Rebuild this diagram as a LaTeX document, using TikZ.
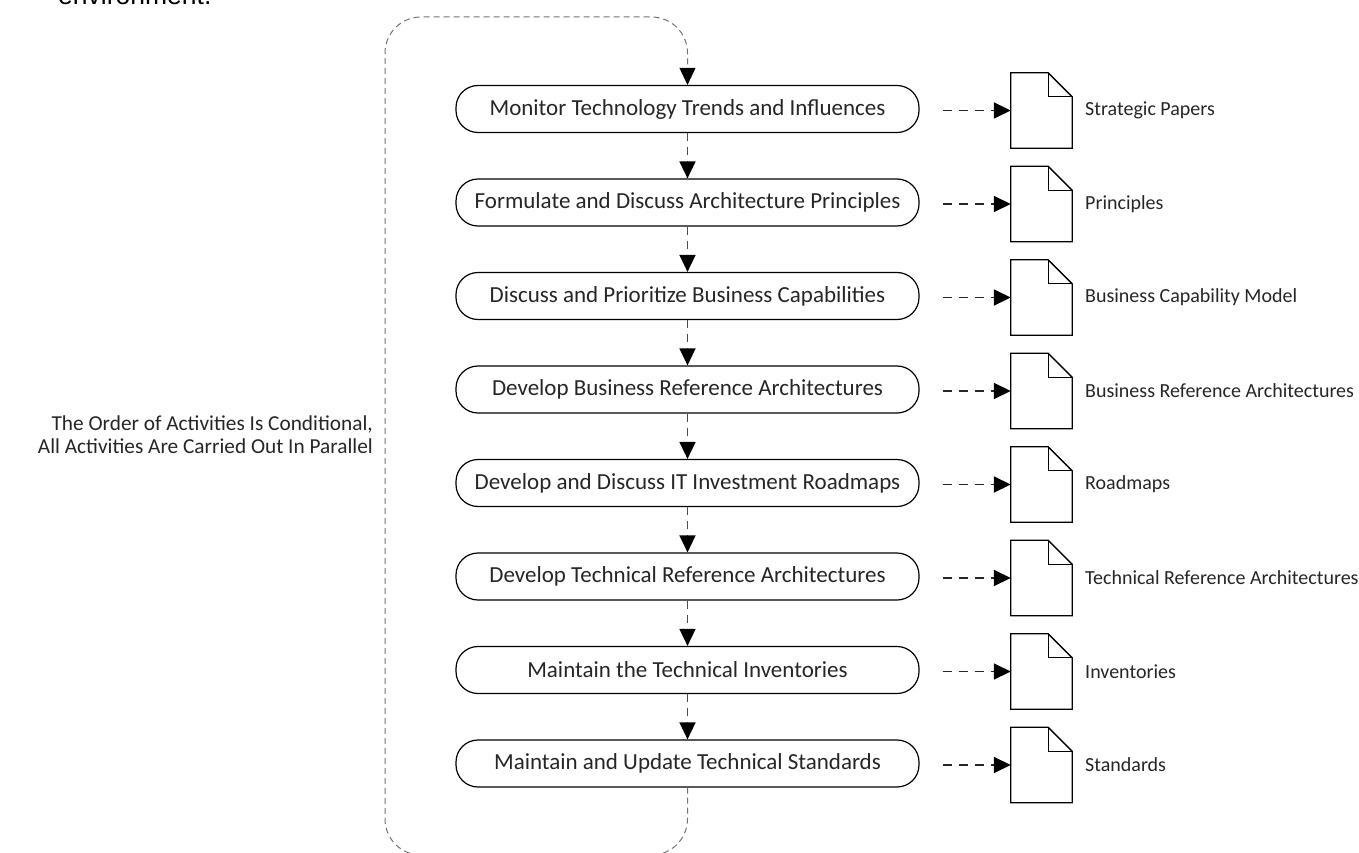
\documentclass[tikz,border=0pt]{standalone}
\usepackage{fontspec}
\setmainfont{Carlito}
\newfontfamily\captionfont{Liberation Sans}
\usetikzlibrary{arrows.meta}

\tikzset{
  activity/.style={draw=black, line width=1.2pt, rounded corners=22pt, minimum width=463pt,
    minimum height=47pt, inner sep=0pt, text=black!85, font=\fontsize{23}{26}\selectfont},
  docbox/.style={minimum width=61pt, minimum height=75pt, inner sep=0pt},
  doclabel/.style={anchor=west, inner sep=0pt, text=black!85, font=\fontsize{20}{24}\selectfont},
  tip/.style={-{Triangle[width=16pt,length=17pt,black]}},
  flowline/.style={tip, draw=black!70, line width=1.6pt, dash pattern=on 8pt off 6pt},
  outline/.style={tip, draw=black!85, line width=1.6pt, dash pattern=on 9pt off 7pt, shorten <=23pt},
  loopline/.style={tip, draw=black!55, line width=1pt, dash pattern=on 6pt off 4pt, rounded corners=36pt}
}

% document icon with folded corner
\newcommand{\docsheet}[1]{%
  \draw[black, line width=1.3pt] (#1.south west) -- (#1.north west) -- ([xshift=-24pt]#1.north east)
    -- ([yshift=-24pt]#1.north east) -- (#1.south east) -- cycle;
  \draw[black, line width=1.3pt] ([xshift=-24pt]#1.north east) -- ([xshift=-24pt,yshift=-24pt]#1.north east)
    -- ([yshift=-24pt]#1.north east);
}

\begin{document}
\begin{tikzpicture}[x=1pt, y=-1pt]

\useasboundingbox (0,0) rectangle (1359,853);

% cut-off line of the surrounding text
\node[anchor=base west, inner sep=0pt, font=\captionfont\fontsize{26.5}{30}\selectfont] (envtext) at (58,5) {environment.};

% Activities
\node[activity] (a1) at (687.5,109)   {Monitor Technology Trends and Influences};
\node[activity] (a2) at (687.5,202.5) {Formulate and Discuss Architecture Principles};
\node[activity] (a3) at (687.5,296)   {Discuss and Prioritize Business Capabilities};
\node[activity] (a4) at (687.5,389.5) {Develop Business Reference Architectures};
\node[activity] (a5) at (687.5,483)   {Develop and Discuss IT Investment Roadmaps};
\node[activity] (a6) at (687.5,576.5) {Develop Technical Reference Architectures};
\node[activity] (a7) at (687.5,670)   {Maintain the Technical Inventories};
\node[activity] (a8) at (687.5,763.5) {Maintain and Update Technical Standards};

% Deliverables
\node[docbox] (d1) at (1041.5,110.5) {};
\node[docbox] (d2) at (1041.5,204)   {};
\node[docbox] (d3) at (1041.5,297.5) {};
\node[docbox] (d4) at (1041.5,391)   {};
\node[docbox] (d5) at (1041.5,484.5) {};
\node[docbox] (d6) at (1041.5,578)   {};
\node[docbox] (d7) at (1041.5,671.5) {};
\node[docbox] (d8) at (1041.5,765)   {};
\docsheet{d1}\docsheet{d2}\docsheet{d3}\docsheet{d4}
\docsheet{d5}\docsheet{d6}\docsheet{d7}\docsheet{d8}

\node[doclabel] (l1) at (1085,110.5) {Strategic Papers};
\node[doclabel] (l2) at (1085,204)   {Principles};
\node[doclabel] (l3) at (1085,297.5) {Business Capability Model};
\node[doclabel] (l4) at (1085,391)   {Business Reference Architectures};
\node[doclabel] (l5) at (1085,484.5) {Roadmaps};
\node[doclabel] (l6) at (1085,578)   {Technical Reference Architectures};
\node[doclabel] (l7) at (1085,671.5) {Inventories};
\node[doclabel] (l8) at (1085,765)   {Standards};

% Flow between activities
\draw[flowline] (a1) -- (a2);
\draw[flowline] (a2) -- (a3);
\draw[flowline] (a3) -- (a4);
\draw[flowline] (a4) -- (a5);
\draw[flowline] (a5) -- (a6);
\draw[flowline] (a6) -- (a7);
\draw[flowline] (a7) -- (a8);

% Outputs
\draw[outline] (a1.east |- d1.west) -- (d1.west);
\draw[outline] (a2.east |- d2.west) -- (d2.west);
\draw[outline] (a3.east |- d3.west) -- (d3.west);
\draw[outline] (a4.east |- d4.west) -- (d4.west);
\draw[outline] (a5.east |- d5.west) -- (d5.west);
\draw[outline] (a6.east |- d6.west) -- (d6.west);
\draw[outline] (a7.east |- d7.west) -- (d7.west);
\draw[outline] (a8.east |- d8.west) -- (d8.west);

% Loop back to the start
\coordinate (looptl) at (385,17);
\coordinate (loopbl) at (385,855);
\draw[loopline] (a8.south) -- (a8.south |- loopbl) -- (loopbl) -- (looptl) -- (a1.north |- looptl) -- (a1.north);

% Note
\node[anchor=east, align=right, inner sep=0pt, text=black!85, font=\fontsize{21.3}{23}\selectfont] (note) at (373,435)
  {The Order of Activities Is Conditional,\\All Activities Are Carried Out In Parallel};

\end{tikzpicture}
\end{document}
